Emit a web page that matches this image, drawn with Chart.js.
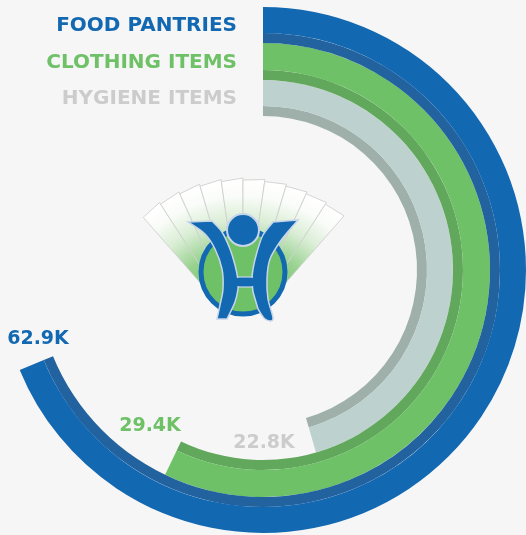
<!DOCTYPE html>
<html><head><meta charset="utf-8">
<script src="https://cdn.jsdelivr.net/npm/chart.js@4.4.0/dist/chart.umd.min.js"></script>
<style>
html,body{margin:0;padding:0;background:#f6f6f6;overflow:hidden}
#wrap{width:526px;height:535px;position:relative}
canvas{display:block}
</style></head>
<body><div id="wrap"><canvas id="c" width="526" height="535"></canvas></div>
<script>
// ---- data ----
const categories = ['FOOD PANTRIES', 'CLOTHING ITEMS', 'HYGIENE ITEMS'];
const values = [62.9, 29.4, 22.8];               // thousands
const valueLabels = ['62.9K', '29.4K', '22.8K'];
const progress = [68.8, 57.1, 45.5];             // percent of full circle covered by each arc

// ---- styles ----
const lightColors = ['#1368b2', '#6fc167', '#bdd1ce'];
const darkColors  = ['#22639f', '#61a75c', '#9eb0a9'];
const textColors  = ['#1368b2', '#6fc167', '#cccccc'];
const lightWeight = [26, 27, 26];
const darkWeight  = [10, 10, 10];
const valueLabelPos = [[38, 339], [150, 426], [264, 443]];

const datasets = [];
categories.forEach((c, i) => {
  datasets.push({
    label: c,
    data: [progress[i], 100 - progress[i]],
    backgroundColor: [lightColors[i], 'rgba(0,0,0,0)'],
    borderWidth: 0,
    weight: lightWeight[i]
  });
  datasets.push({
    label: c + ' inner',
    data: [progress[i], 100 - progress[i]],
    backgroundColor: [darkColors[i], 'rgba(0,0,0,0)'],
    borderWidth: 0,
    weight: darkWeight[i]
  });
});

function spline(ctx, pts, first) {
  if (first) ctx.moveTo(pts[0][0], pts[0][1]); else ctx.lineTo(pts[0][0], pts[0][1]);
  for (let i = 0; i < pts.length - 1; i++) {
    const p0 = pts[Math.max(i - 1, 0)], p1 = pts[i], p2 = pts[i + 1], p3 = pts[Math.min(i + 2, pts.length - 1)];
    ctx.bezierCurveTo(p1[0] + (p2[0] - p0[0]) / 6, p1[1] + (p2[1] - p0[1]) / 6,
                      p2[0] - (p3[0] - p1[0]) / 6, p2[1] - (p3[1] - p1[1]) / 6, p2[0], p2[1]);
  }
}

function drawLogo(ctx) {
  ctx.save();
  // fan
  const fx = 243, fy = 332, R = 152, r0 = 45;
  const n = 10, span = 82;
  const g = ctx.createRadialGradient(fx, fy, r0, fx, fy, R);
  g.addColorStop(0, 'rgba(111,193,103,1)');
  g.addColorStop(0.35, 'rgba(140,205,130,0.9)');
  g.addColorStop(0.62, 'rgba(215,236,210,0.95)');
  g.addColorStop(0.85, 'rgba(250,252,249,1)');
  g.addColorStop(1, 'rgba(255,255,255,1)');
  for (let k = 0; k < n; k++) {
    const t0 = (-span / 2 + k * span / n) * Math.PI / 180 - Math.PI / 2;
    const t1 = (-span / 2 + (k + 1) * span / n) * Math.PI / 180 - Math.PI / 2;
    ctx.beginPath();
    ctx.moveTo(fx + r0 * Math.cos(t0), fy + r0 * Math.sin(t0));
    ctx.lineTo(fx + R * Math.cos(t0), fy + R * Math.sin(t0));
    ctx.lineTo(fx + (R + 2) * Math.cos(t1), fy + (R + 2) * Math.sin(t1));
    ctx.lineTo(fx + r0 * Math.cos(t1), fy + r0 * Math.sin(t1));
    ctx.closePath();
    ctx.fillStyle = g;
    ctx.fill();
    ctx.strokeStyle = 'rgba(205,210,205,0.9)';
    ctx.lineWidth = 1;
    ctx.stroke();
  }
  // green circle
  ctx.beginPath();
  ctx.arc(243, 272, 42, 0, Math.PI * 2);
  ctx.fillStyle = '#6fc167';
  ctx.fill();
  ctx.lineWidth = 5;
  ctx.strokeStyle = '#1368b2';
  ctx.stroke();
  // figure
  const blue = '#1368b2', rim = '#c6d5ea';
  // crossbar
  ctx.fillStyle = blue;
  ctx.fillRect(234, 277, 23, 10);
  ctx.strokeStyle = rim; ctx.lineWidth = 1.2;
  ctx.strokeRect(234, 277, 23, 10);
  const leftArm = [[188, 222], [212, 221], [222, 232], [230, 249], [235, 265], [238, 280], [238, 289],
                   [235, 302], [227, 319], [217, 319], [220, 305], [223, 289], [222, 269], [215, 249], [205, 234], [188, 222]];
  const rightArm = [[273, 222], [298, 220], [282, 239], [270, 259], [267, 279], [268, 299], [273, 319],
                    [265, 319], [258, 309], [253, 292], [252, 280], [253, 269], [257, 252], [263, 235], [273, 222]];
  [leftArm, rightArm].forEach(pts => {
    ctx.beginPath();
    // top edge straight, rest smooth
    ctx.moveTo(pts[0][0], pts[0][1]);
    ctx.lineTo(pts[1][0], pts[1][1]);
    spline(ctx, pts.slice(1, 9), false);
    ctx.lineTo(pts[9][0], pts[9][1]);
    spline(ctx, pts.slice(9), false);
    ctx.closePath();
    ctx.fillStyle = blue;
    ctx.fill();
    ctx.lineWidth = 1.5;
    ctx.strokeStyle = rim;
    ctx.stroke();
  });
  ctx.fillStyle = blue;
  ctx.fillRect(236, 278, 19, 8);
  // head
  ctx.beginPath();
  ctx.arc(243, 230, 16, 0, Math.PI * 2);
  ctx.fillStyle = blue;
  ctx.fill();
  ctx.lineWidth = 2;
  ctx.strokeStyle = rim;
  ctx.stroke();
  ctx.restore();
}

const labelPlugin = {
  id: 'labels',
  beforeDatasetsDraw(chart) {
    drawLogo(chart.ctx);
  },
  afterDatasetsDraw(chart) {
    const ctx = chart.ctx;
    ctx.save();
    ctx.textBaseline = 'middle';
    categories.forEach((c, i) => {
      const a = chart.getDatasetMeta(2 * i).data[0];
      const b = chart.getDatasetMeta(2 * i + 1).data[0];
      const y = a.y - (a.outerRadius + b.innerRadius) / 2;
      ctx.font = 'bold 20px "DejaVu Sans"';
      ctx.textAlign = 'right';
      ctx.fillStyle = textColors[i];
      ctx.fillText(c, a.x - 26, y + 1);
      ctx.font = 'bold 19px "DejaVu Sans"';
      ctx.textAlign = 'center';
      ctx.fillText(valueLabels[i], valueLabelPos[i][0], valueLabelPos[i][1]);
    });
    ctx.restore();
  }
};

new Chart(document.getElementById('c'), {
  type: 'doughnut',
  data: { labels: ['value', 'rest'], datasets },
  options: {
    responsive: false,
    animation: false,
    events: [],
    cutout: '58.56%',
    rotation: 0,
    circumference: 360,
    layout: { padding: { top: 5, bottom: 0, left: 0, right: 0 } },
    plugins: { legend: { display: false }, tooltip: { enabled: false } }
  },
  plugins: [labelPlugin]
});
</script>
</body></html>
